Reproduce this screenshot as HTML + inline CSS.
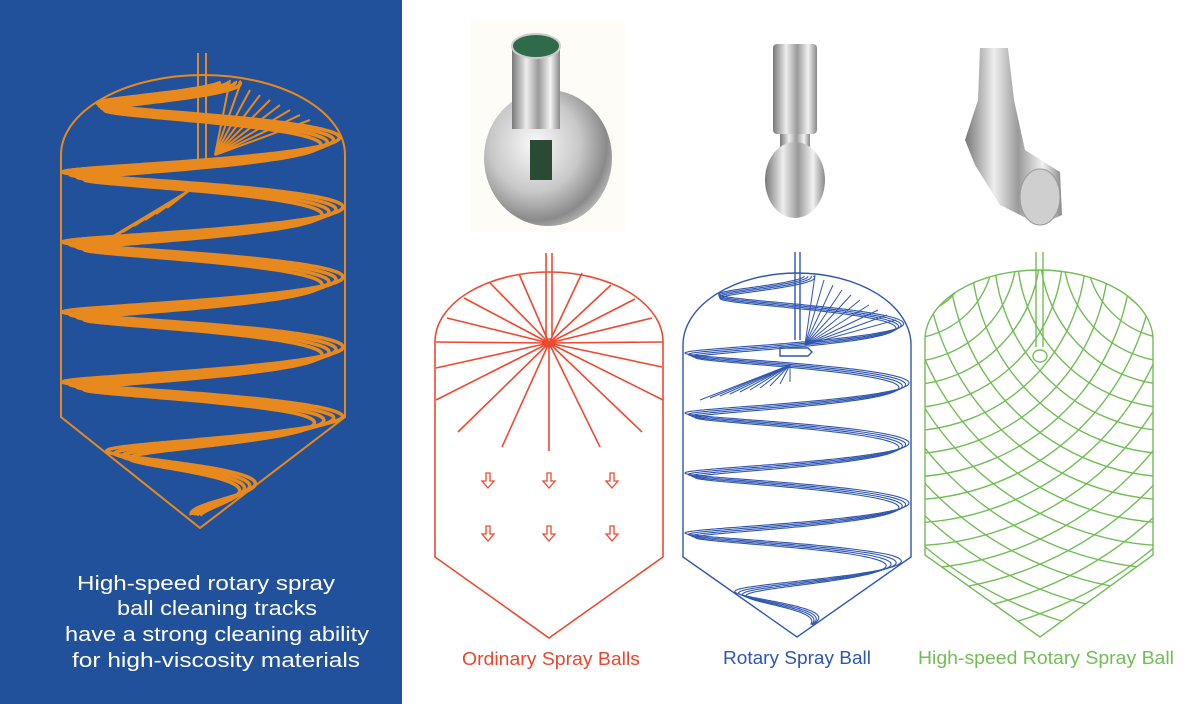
<!DOCTYPE html>
<html><head><meta charset="utf-8"><style>
html,body{margin:0;padding:0;background:#fff;overflow:hidden;width:1191px;height:704px}
svg{display:block}
text{font-family:"Liberation Sans",sans-serif}
</style></head><body>
<svg id="s" width="1191" height="704" viewBox="0 0 1191 704" xmlns="http://www.w3.org/2000/svg">
<defs>
<radialGradient id="m1" cx="0.4" cy="0.4" r="0.7"><stop offset="0" stop-color="#fafafa"/><stop offset="0.5" stop-color="#c8c8c8"/><stop offset="0.8" stop-color="#8a8a8a"/><stop offset="1" stop-color="#d0d0d0"/></radialGradient>
<linearGradient id="m2" x1="0" x2="1"><stop offset="0" stop-color="#777"/><stop offset="0.3" stop-color="#eee"/><stop offset="0.55" stop-color="#9a9a9a"/><stop offset="0.8" stop-color="#f2f2f2"/><stop offset="1" stop-color="#888"/></linearGradient>
<clipPath id="cg"><path d="M925 340 A114 70 0 0 1 1153 340 L1153 555 L1040 637 L925 555 Z"/></clipPath>
</defs>
<rect x="0" y="0" width="402" height="704" fill="#22519b"/>
<g id="og" fill="none" stroke="#e8891d" stroke-width="2">
<path d="M61 155 A142 80 0 0 1 345 155 L345 417 L200 528 L61 417 Z"/>
<line x1="198" y1="53" x2="198" y2="165"/><line x1="206" y1="53" x2="206" y2="165"/>
</g>
<g fill="#fff" font-size="20">
<text x="77" y="590" textLength="258" lengthAdjust="spacingAndGlyphs">High-speed rotary spray</text>
<text x="117" y="615" textLength="200" lengthAdjust="spacingAndGlyphs">ball cleaning tracks</text>
<text x="65" y="641" textLength="304" lengthAdjust="spacingAndGlyphs">have a strong cleaning ability</text>
<text x="72" y="667" textLength="288" lengthAdjust="spacingAndGlyphs">for high-viscosity materials</text>
</g>
<rect x="470" y="20" width="155" height="212" fill="#fdfcf6"/>
<ellipse cx="548" cy="158" rx="64" ry="68" fill="url(#m1)"/>
<rect x="512" y="44" width="48" height="85" fill="url(#m2)"/>
<ellipse cx="536" cy="46" rx="24" ry="12" fill="#2f6a4a" stroke="#ccc" stroke-width="2"/>
<rect x="530" y="140" width="22" height="40" fill="#2a4a34"/>
<rect x="773" y="44" width="44" height="90" rx="4" fill="url(#m2)"/>
<rect x="780" y="134" width="30" height="20" fill="url(#m2)"/>
<ellipse cx="795" cy="180" rx="30" ry="38" fill="url(#m2)"/>
<path d="M980 48 L1008 48 L1014 100 L1025 150 L1060 172 L1062 215 L1040 225 L1000 205 L975 165 L965 140 L978 100 Z" fill="url(#m2)"/>
<ellipse cx="1040" cy="197" rx="20" ry="28" fill="#cfcfcf" stroke="#999"/>
<g fill="none" stroke="#ec4a30" stroke-width="1.6" id="rg">
<path d="M435 342 A114 70 0 0 1 663 342 L663 557 L549 638 L435 557 Z"/>
<line x1="546" y1="253" x2="546" y2="338"/><line x1="552" y1="253" x2="552" y2="338"/>
<ellipse cx="549" cy="343" rx="6" ry="4"/>
</g>
<g fill="none" stroke="#2f56b0" stroke-width="1.4" id="bg">
<path d="M683 345 A114 72 0 0 1 911 345 L911 557 L797 637 L683 557 Z"/>
<line x1="795" y1="252" x2="795" y2="340"/><line x1="800" y1="252" x2="800" y2="340"/>
<path d="M780 348 L808 348 L812 352 L808 356 L780 356 Z"/>
</g>
<g fill="none" stroke="#72bd55" stroke-width="1.4" id="gg">
<path d="M925 340 A114 70 0 0 1 1153 340 L1153 555 L1040 637 L925 555 Z"/>
<g clip-path="url(#cg)" id="lat"></g>
<line x1="1036" y1="252" x2="1036" y2="347"/><line x1="1043" y1="252" x2="1043" y2="347"/>
<ellipse cx="1040" cy="356" rx="7" ry="6" fill="#fff"/>
</g>
<g font-size="18">
<text x="462" y="665" fill="#e8472e" textLength="178" lengthAdjust="spacingAndGlyphs">Ordinary Spray Balls</text>
<text x="723" y="664" fill="#2f56b0" textLength="148" lengthAdjust="spacingAndGlyphs">Rotary Spray Ball</text>
<text x="918" y="664" fill="#72bd55" textLength="256" lengthAdjust="spacingAndGlyphs">High-speed Rotary Spray Ball</text>
</g>
</svg>
<script>
var NS="http://www.w3.org/2000/svg";
function el(p,n,a){var e=document.createElementNS(NS,n);for(var k in a)e.setAttribute(k,a[k]);p.appendChild(e);return e;}
var rg=document.getElementById('rg');
[[436,342],[447,318],[464,298],[490,283],[519,274],[582,273],[611,285],[635,299],[652,318],[663,342],[436,368],[436,400],[458,432],[502,447],[549,451],[600,447],[642,432],[663,400],[662,367]].forEach(function(p){el(rg,'line',{x1:549,y1:343,x2:p[0],y2:p[1]});});
[[488,480],[549,480],[612,480],[488,533],[549,533],[612,533]].forEach(function(p){var x=p[0],y=p[1];
el(rg,'path',{d:'M'+(x-2)+' '+(y-7)+' L'+(x-2)+' '+(y+1)+' L'+(x-6)+' '+(y+1)+' L'+x+' '+(y+8)+' L'+(x+6)+' '+(y+1)+' L'+(x+2)+' '+(y+1)+' L'+(x+2)+' '+(y-7)+' Z','stroke-width':1.3});});
function hw(y,top,st,en,ap,R){ if(y<st){var d=(st-y)/(st-top);return R*Math.sqrt(Math.max(0,1-d*d));} if(y<=en)return R; return R*Math.max(0,(ap-y)/(ap-en));}
function helix(g,cx,R,top,st,en,ap,y0,P,ys,ye,offs,sw){
 offs.forEach(function(o){var d='';var first=true;
  for(var t=0;t<60;t+=0.04){var y=y0+P*t/(2*Math.PI)+o; if(y<ys)continue; if(y>ye)break;
   var w=hw(y,top,st,en,ap,R)-2; var x=cx+w*Math.cos(t)*(1-0.02*o);
   d+=(first?'M':'L')+x.toFixed(1)+' '+(y+(w*0.04)*Math.sin(t)).toFixed(1)+' ';first=false;}
  el(g,'path',{d:d,'stroke-width':sw});});
}
var og=document.getElementById('og');
helix(og,203,142,75,155,417,528,67,70,80,515,[0,2.5,5,7.5],3.5);
for(var i=0;i<9;i++){el(og,'line',{x1:215,y1:155,x2:230+i*10,y2:80+i*5,'stroke-width':2});}
for(var i=0;i<8;i++){el(og,'line',{x1:190,y1:190,x2:90+i*11,y2:250-i*6,'stroke-width':2});}
var bg=document.getElementById('bg');
helix(bg,797,114,273,345,557,637,263,60,275,625,[0,1.5,3,4.5],1.1);
for(var i=0;i<10;i++){el(bg,'line',{x1:805,y1:345,x2:815+i*9,y2:275+i*5,'stroke-width':1});}
for(var i=0;i<10;i++){el(bg,'line',{x1:790,y1:365,x2:700+i*10,y2:400-i*2,'stroke-width':1});}
var lat=document.getElementById('lat');
for(var r=20;r<480;r+=23){
 el(lat,'circle',{cx:905,cy:250,r:r});
 el(lat,'circle',{cx:1175,cy:250,r:r});
}
</script>
</body></html>
